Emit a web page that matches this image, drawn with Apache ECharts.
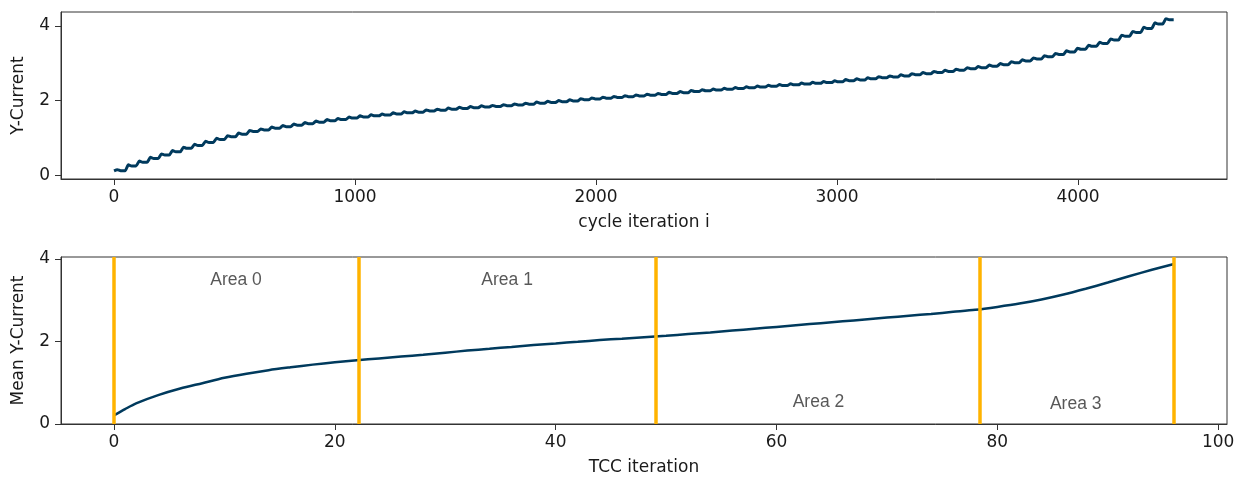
<!DOCTYPE html>
<html>
<head>
<meta charset="utf-8">
<script src="https://cdn.jsdelivr.net/npm/echarts@6/dist/echarts.min.js"></script>
<style>
  html, body { margin: 0; padding: 0; background: #fff; }
  #chart { width: 1240px; height: 480px; }
</style>
</head>
<body>
<div id="chart"></div>
<script>
// Top panel: Y-Current level reached in each TCC step (one value per step)
const cycleStep = 45.8;
const stepCurrent = [
  0.12, 0.25, 0.35, 0.45, 0.54, 0.63, 0.72, 0.80, 0.88, 0.96,
  1.03, 1.10, 1.17, 1.21, 1.26, 1.30, 1.34, 1.38, 1.42, 1.46,
  1.49, 1.53, 1.56, 1.59, 1.61, 1.64, 1.67, 1.69, 1.72, 1.74,
  1.77, 1.79, 1.81, 1.83, 1.84, 1.86, 1.88, 1.90, 1.93, 1.95,
  1.97, 1.99, 2.02, 2.04, 2.06, 2.08, 2.10, 2.12, 2.14, 2.16,
  2.19, 2.21, 2.24, 2.26, 2.28, 2.30, 2.32, 2.34, 2.36, 2.38,
  2.40, 2.42, 2.44, 2.46, 2.48, 2.50, 2.53, 2.55, 2.58, 2.61,
  2.63, 2.66, 2.69, 2.72, 2.75, 2.78, 2.81, 2.85, 2.88, 2.92,
  2.96, 3.01, 3.06, 3.11, 3.17, 3.23, 3.30, 3.37, 3.45, 3.53,
  3.62, 3.72, 3.82, 3.93, 4.05, 4.16
];
// small overshoot seen at the start of every step (ripple on the curve)
const stepOvershoot = 0.03;
const cycleTicks = [0, 1000, 2000, 3000, 4000];

// Bottom panel: mean Y-Current per TCC iteration
const tccIter = [0, 1, 2, 4, 6, 8, 10, 12, 14, 16, 18, 20, 22, 24, 26, 28, 30, 32, 34, 36, 38, 40, 42, 44, 46, 48,
  50, 52, 54, 56, 58, 60, 62, 64, 66, 68, 70, 72, 74, 76, 78, 80, 82, 84, 86, 88, 90, 92, 94, 96];
const meanCurrent = [0.21, 0.36, 0.50, 0.70, 0.86, 0.99, 1.12, 1.22, 1.305, 1.375, 1.44, 1.495, 1.545, 1.59, 1.635, 1.68, 1.73, 1.78, 1.825, 1.87, 1.915, 1.955, 1.995, 2.035, 2.07, 2.105,
  2.14, 2.18, 2.22, 2.265, 2.31, 2.355, 2.40, 2.445, 2.49, 2.535, 2.58, 2.625, 2.67, 2.72, 2.77, 2.84, 2.92, 3.02, 3.14, 3.28, 3.43, 3.59, 3.74, 3.88];
const areaBounds = [0, 22.2, 49.1, 78.4, 96];
const areaNames = ['Area 0', 'Area 1', 'Area 2', 'Area 3'];
const areaLabelX = [11.05, 35.6, 63.8, 87.1];
const areaLabelY = [3.5, 3.5, 0.52, 0.49];
const tccTicks = [0, 20, 40, 60, 80, 100];
const currentTicks = [0, 2, 4];

const navy = '#003a5d';
const orange = '#ffb300';
const ink = '#333333';
const tickFont = { fontFamily: 'DejaVu Sans', fontSize: 17, color: '#1a1a1a' };

// stepped curve: rise at the start of each step, slight overshoot, then hold
const topData = [];
stepCurrent.forEach((v, i) => {
  const x0 = i * cycleStep;
  const prev = i > 0 ? stepCurrent[i - 1] : v;
  topData.push([x0, prev]);
  topData.push([x0 + 0.3 * cycleStep, v + stepOvershoot]);
  topData.push([x0 + 0.6 * cycleStep, v]);
});
topData.push([stepCurrent.length * cycleStep, stepCurrent[stepCurrent.length - 1]]);

const bottomData = tccIter.map((t, i) => [t, meanCurrent[i]]);
const labelData = areaNames.map((n, i) => [areaLabelX[i], areaLabelY[i], n]);

function xAxisOf(grid, min, max, ticks, name) {
  return {
    gridIndex: grid, type: 'value', min: min, max: max,
    name: name, nameLocation: 'middle', nameGap: 35,
    nameTextStyle: tickFont,
    splitLine: { show: false },
    axisLine: { show: true, onZero: false, lineStyle: { color: ink, width: 1 } },
    axisTick: { show: true, length: 6, customValues: ticks, lineStyle: { color: ink } },
    axisLabel: Object.assign({ customValues: ticks, margin: 10, formatter: v => String(v) }, tickFont)
  };
}
function yAxisOf(grid, min, max, name) {
  return {
    gridIndex: grid, type: 'value', min: min, max: max,
    name: name, nameLocation: 'middle', nameGap: 34,
    nameTextStyle: tickFont,
    splitLine: { show: false },
    axisLine: { show: true, onZero: false, lineStyle: { color: ink, width: 1 } },
    axisTick: { show: true, length: 6, customValues: currentTicks, lineStyle: { color: ink } },
    axisLabel: Object.assign({ customValues: currentTicks, margin: 11, formatter: v => String(v) }, tickFont)
  };
}

const chart = echarts.init(document.getElementById('chart'));
chart.setOption({
  animation: false,
  grid: [
    { left: 61, right: 13, top: 12, height: 167, show: true, borderColor: ink, borderWidth: 1 },
    { left: 61, right: 13, top: 257, height: 167, show: true, borderColor: ink, borderWidth: 1 }
  ],
  xAxis: [
    xAxisOf(0, -220, 4618, cycleTicks, 'cycle iteration i'),
    xAxisOf(1, -4.8, 100.8, tccTicks, 'TCC iteration')
  ],
  yAxis: [
    yAxisOf(0, -0.1, 4.37, 'Y-Current'),
    yAxisOf(1, 0, 4.05, 'Mean Y-Current')
  ],
  series: [
    {
      type: 'line', xAxisIndex: 0, yAxisIndex: 0, smooth: 0.2,
      data: topData, showSymbol: false, sampling: null,
      lineStyle: { color: navy, width: 3 }
    },
    {
      type: 'line', xAxisIndex: 1, yAxisIndex: 1, smooth: 0.3,
      data: bottomData, showSymbol: false,
      lineStyle: { color: navy, width: 2.5 }
    },
    {
      type: 'line', xAxisIndex: 1, yAxisIndex: 1, data: [], z: 5,
      markLine: {
        silent: true, symbol: 'none', label: { show: false },
        lineStyle: { color: orange, width: 3.5, type: 'solid' },
        data: areaBounds.map(b => ({ xAxis: b }))
      }
    },
    {
      type: 'scatter', xAxisIndex: 1, yAxisIndex: 1, symbolSize: 0, silent: true,
      data: labelData,
      label: {
        show: true, position: 'inside', formatter: p => p.value[2],
        fontFamily: 'Liberation Sans', fontSize: 17.5, color: '#2e2e2e'
      }
    }
  ]
});
</script>
</body>
</html>
